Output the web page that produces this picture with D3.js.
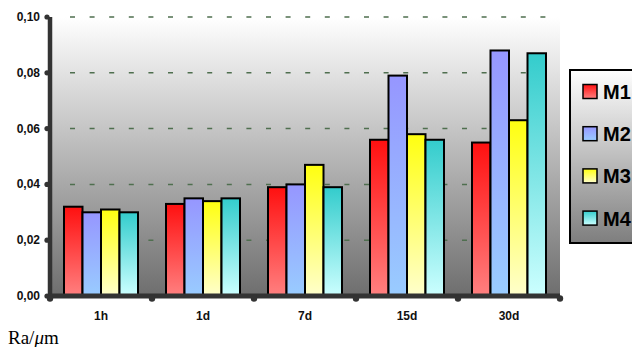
<!DOCTYPE html>
<html><head><meta charset="utf-8">
<script src="https://cdn.jsdelivr.net/npm/d3@7"></script>
<style>html,body{margin:0;padding:0;background:#fff;overflow:hidden}</style>
</head><body>
<svg id="c" width="632" height="347"></svg>
<script>
const categories = ["1h", "1d", "7d", "15d", "30d"];
const seriesNames = ["M1", "M2", "M3", "M4"];
const M1 = [0.032, 0.033, 0.039, 0.056, 0.055];
const M2 = [0.030, 0.035, 0.040, 0.079, 0.088];
const M3 = [0.031, 0.034, 0.047, 0.058, 0.063];
const M4 = [0.030, 0.035, 0.039, 0.056, 0.087];
const yTicks = [0, 0.02, 0.04, 0.06, 0.08, 0.10];
const yLabel = ["Ra/", "μ", "m"];

const seriesValues = [M1, M2, M3, M4];
const gradStops = [["#ff1010", "#ff8080"], ["#9696ff", "#99ccff"], ["#ffff10", "#ffffcc"], ["#33cccc", "#ccffff"]];

const svg = d3.select("#c");
const font = "'Liberation Sans', Arial, sans-serif";
const L = 50, R = 560, T = 17, B = 296;

const defs = svg.append("defs");
const bg = defs.append("linearGradient").attr("id", "bg").attr("x1", 0).attr("y1", 0).attr("x2", 0).attr("y2", 1);
bg.append("stop").attr("offset", "0").attr("stop-color", "#ffffff");
bg.append("stop").attr("offset", "1").attr("stop-color", "#6e6e6e");
const lg = defs.append("linearGradient").attr("id", "lg").attr("x1", 0).attr("y1", 0).attr("x2", 0).attr("y2", 1);
lg.append("stop").attr("offset", "0").attr("stop-color", "#ffffff");
lg.append("stop").attr("offset", "1").attr("stop-color", "#7e7e7e");
gradStops.forEach((s, i) => {
  const g = defs.append("linearGradient").attr("id", "g" + i).attr("x1", 0).attr("y1", 0).attr("x2", 0).attr("y2", 1);
  g.append("stop").attr("offset", "0").attr("stop-color", s[0]);
  g.append("stop").attr("offset", "1").attr("stop-color", s[1]);
});

const x = d3.scaleBand().domain(categories).range([L, R]).paddingInner(0).paddingOuter(0);
const xs = d3.scaleBand().domain(seriesNames).range([14, x.bandwidth() - 14]).padding(0);
const y = d3.scaleLinear().domain([0, 0.10]).range([B, T]);

svg.append("rect").attr("x", L).attr("y", T).attr("width", R - L).attr("height", B - T).attr("fill", "url(#bg)");

// gridlines
svg.append("g").selectAll("line").data(yTicks.filter(d => d > 0)).join("line")
  .attr("x1", L + 20).attr("x2", R).attr("y1", d => y(d)).attr("y2", d => y(d))
  .attr("stroke", "#4f6f4f").attr("stroke-width", 1.5).attr("stroke-dasharray", "5 14.6");

// bars
const groups = svg.append("g").selectAll("g").data(categories).join("g")
  .attr("transform", d => `translate(${x(d)},0)`);
groups.selectAll("rect").data((c, ci) => seriesNames.map((s, si) => ({ s, si, v: seriesValues[si][ci] }))).join("rect")
  .attr("x", d => xs(d.s)).attr("width", xs.bandwidth())
  .attr("y", d => y(d.v)).attr("height", d => y(0) - y(d.v))
  .attr("fill", d => `url(#g${d.si})`).attr("stroke", "#000").attr("stroke-width", 2);

// axes
svg.append("line").attr("x1", L).attr("x2", L).attr("y1", T).attr("y2", B).attr("stroke", "#333").attr("stroke-width", 4.5);
svg.append("g").selectAll("circle").data(yTicks).join("circle")
  .attr("cx", L - 3).attr("cy", d => y(d)).attr("r", 2.6).attr("fill", "#333");
svg.append("line").attr("x1", L - 2).attr("x2", R).attr("y1", B).attr("y2", B).attr("stroke", "#333").attr("stroke-width", 5);
const xTickPos = categories.map(c => x(c)).concat([R]);
svg.append("g").selectAll("circle").data(xTickPos).join("circle")
  .attr("cx", d => d).attr("cy", B + 2.5).attr("r", 3.2).attr("fill", "#333");

svg.append("g").selectAll("text").data(yTicks).join("text")
  .attr("x", 40).attr("y", d => y(d) + 4).attr("text-anchor", "end")
  .attr("font-family", font).attr("font-weight", "bold").attr("font-size", 12).attr("fill", "#111")
  .text(d => d3.format(".2f")(d).replace(".", ","));

svg.append("g").selectAll("text").data(categories).join("text")
  .attr("x", d => x(d) + x.bandwidth() / 2).attr("y", 320).attr("text-anchor", "middle")
  .attr("font-family", font).attr("font-weight", "bold").attr("font-size", 12).attr("fill", "#111")
  .text(d => d);

// legend
svg.append("rect").attr("x", 570).attr("y", 70).attr("width", 80).attr("height", 173)
  .attr("fill", "url(#lg)").attr("stroke", "#000").attr("stroke-width", 2);
const leg = svg.append("g").selectAll("g").data(seriesNames).join("g")
  .attr("transform", (d, i) => `translate(583,${91.5 + i * 42.2})`);
leg.append("rect").attr("x", 0).attr("y", -7).attr("width", 14).attr("height", 14)
  .attr("fill", (d, i) => `url(#g${i})`).attr("stroke", "#000").attr("stroke-width", 1.5);
leg.append("text").attr("x", 20).attr("y", 7.5)
  .attr("font-family", font).attr("font-weight", "bold").attr("font-size", 20).attr("fill", "#000")
  .text(d => d);

// unit label
const ut = svg.append("text").attr("x", 8).attr("y", 343.5)
  .attr("font-family", "'Liberation Serif', 'Times New Roman', serif").attr("font-size", 19).attr("fill", "#000");
ut.append("tspan").text(yLabel[0]);
ut.append("tspan").attr("font-style", "italic").text(yLabel[1]);
ut.append("tspan").text(yLabel[2]);
</script>
</body></html>
